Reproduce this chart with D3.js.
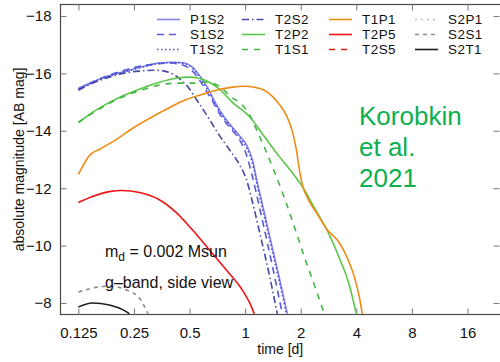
<!DOCTYPE html>
<html>
<head>
<meta charset="utf-8">
<script src="https://cdn.jsdelivr.net/npm/d3@7"></script>
<style>
  html, body { margin: 0; padding: 0; background: #fff; }
  svg { display: block; font-family: "Liberation Sans", Arial, Helvetica, sans-serif; }
</style>
</head>
<body>
<svg id="chart" width="500" height="362"></svg>
<script>
// Light curves, g-band, side view: [time (d), absolute AB magnitude]
const P1S2 = [[0.125,-15.48],[0.1435,-15.66],[0.162,-15.80],[0.196,-15.97],[0.236,-16.11],[0.285,-16.25],[0.343,-16.36],[0.414,-16.39],[0.469,-16.36],[0.518,-16.22],[0.565,-15.94],[0.624,-15.52],[0.698,-14.92],[0.772,-14.47],[0.853,-14.12],[0.930,-13.84],[1.015,-13.52],[1.094,-13.00],[1.164,-12.20],[1.270,-11.15],[1.404,-9.92],[1.532,-8.87],[1.692,-7.62]];
const S1S2 = [[0.125,-15.45],[0.153,-15.73],[0.184,-15.94],[0.222,-16.11],[0.268,-16.25],[0.322,-16.32],[0.389,-16.36],[0.440,-16.32],[0.487,-16.22],[0.531,-16.01],[0.586,-15.62],[0.656,-15.10],[0.743,-14.50],[0.842,-14.05],[0.930,-13.70],[1.015,-13.17],[1.094,-12.41],[1.193,-11.36],[1.319,-10.10],[1.457,-8.80],[1.590,-7.62]];
const T1S2 = [[0.125,-15.45],[0.1435,-15.63],[0.162,-15.78],[0.196,-15.96],[0.236,-16.10],[0.285,-16.24],[0.343,-16.35],[0.414,-16.38],[0.469,-16.34],[0.518,-16.18],[0.565,-15.88],[0.624,-15.45],[0.698,-14.86],[0.772,-14.42],[0.853,-14.08],[0.930,-13.78],[1.015,-13.42],[1.094,-12.88],[1.164,-12.08],[1.270,-11.02],[1.404,-9.80],[1.532,-8.75],[1.675,-7.62]];
const T2S2 = [[0.125,-15.41],[0.153,-15.69],[0.184,-15.87],[0.222,-16.01],[0.268,-16.08],[0.322,-16.11],[0.365,-16.08],[0.424,-15.90],[0.487,-15.55],[0.544,-15.10],[0.640,-14.40],[0.725,-13.84],[0.821,-13.35],[0.930,-12.83],[1.015,-12.31],[1.121,-11.25],[1.224,-10.20],[1.352,-8.98],[1.494,-7.62]];
const T2P2 = [[0.125,-14.29],[0.149,-14.64],[0.184,-14.99],[0.228,-15.27],[0.285,-15.52],[0.343,-15.69],[0.424,-15.83],[0.498,-15.87],[0.565,-15.83],[0.640,-15.69],[0.725,-15.45],[0.853,-14.99],[1.054,-14.50],[1.270,-13.80],[1.532,-13.10],[1.779,-12.58],[2.040,-12.06],[2.370,-11.32],[2.786,-10.52],[3.235,-9.57],[3.666,-8.63],[4.000,-7.62]];
const T1S1 = [[0.125,-14.29],[0.149,-14.61],[0.184,-14.96],[0.228,-15.24],[0.285,-15.45],[0.343,-15.59],[0.424,-15.66],[0.518,-15.66],[0.616,-15.69],[0.725,-15.55],[0.842,-15.17],[0.930,-14.99],[1.054,-14.57],[1.164,-13.98],[1.286,-13.35],[1.439,-12.58],[1.630,-11.67],[1.847,-10.66],[2.092,-9.61],[2.370,-8.63],[2.685,-7.62]];
const T1P1 = [[0.125,-12.48],[0.145,-13.17],[0.162,-13.35],[0.201,-13.70],[0.245,-14.08],[0.303,-14.43],[0.374,-14.75],[0.457,-15.03],[0.565,-15.24],[0.698,-15.41],[0.853,-15.52],[0.990,-15.55],[1.121,-15.52],[1.270,-15.41],[1.404,-15.20],[1.532,-14.92],[1.671,-14.54],[1.801,-13.98],[1.893,-13.35],[1.966,-12.65],[2.040,-12.13],[2.199,-11.60],[2.430,-11.15],[2.786,-10.55],[3.235,-10.10],[3.576,-9.57],[3.902,-8.91],[4.153,-8.21],[4.311,-7.62]];
const T2P5 = [[0.125,-11.50],[0.149,-11.71],[0.184,-11.88],[0.216,-11.92],[0.268,-11.85],[0.343,-11.60],[0.424,-11.15],[0.518,-10.55],[0.640,-9.85],[0.791,-9.15],[0.966,-8.45],[1.054,-8.03],[1.121,-7.62]];
const T2S5 = [];
const S2P1 = [];
const S2S1 = [[0.125,-8.38],[0.149,-8.52],[0.184,-8.59],[0.228,-8.45],[0.268,-8.17],[0.298,-7.62]];
const S2T1 = [[0.125,-7.86],[0.149,-8.00],[0.184,-7.93],[0.228,-7.69],[0.236,-7.62]];

const seriesNames = ["P1S2","S1S2","T1S2","T2S2","T2P2","T1S1","T1P1","T2P5","T2S5","S2P1","S2S1","S2T1"];
const seriesData = [P1S2,S1S2,T1S2,T2S2,T2P2,T1S1,T1P1,T2P5,T2S5,S2P1,S2S1,S2T1];

const xTicks = [0.125, 0.25, 0.5, 1, 2, 4, 8, 16];
const xTickLabels = ["0.125","0.25","0.5","1","2","4","8","16"];
const yTicks = [-18, -16, -14, -12, -10, -8];

// Line styling per model
const style = {
  P1S2: {color: "#8282f0", dash: null},
  S1S2: {color: "#5a5ad8", dash: "7,5"},
  T1S2: {color: "#4e4ed2", dash: "1.5,2.5"},
  T2S2: {color: "#4848a6", dash: "7,3,1.5,3"},
  T2P2: {color: "#58c846", dash: null},
  T1S1: {color: "#46b446", dash: "6,6"},
  T1P1: {color: "#ee8c16", dash: null},
  T2P5: {color: "#ee1414", dash: null},
  T2S5: {color: "#ee1414", dash: "6,6"},
  S2P1: {color: "#bdbdbd", dash: "2,4"},
  S2S1: {color: "#8a8a8a", dash: "4,4"},
  S2T1: {color: "#1e1e1e", dash: null}
};

const svg = d3.select("#chart");
const L = 60.5, R = 501, T = 4.5, B = 314.5;

const x = d3.scaleLog().base(2).domain([0.1, 24]).range([L, 500]);
const y = d3.scaleLinear().domain([-18.4, -7.6]).range([T, B]);

svg.append("defs").append("clipPath").attr("id", "plotclip")
  .append("rect").attr("x", L).attr("y", T).attr("width", R - L).attr("height", B - T);

// Frame
const frameColor = "#4a4a4a";
svg.append("rect").attr("x", L).attr("y", T).attr("width", R - L).attr("height", B - T)
  .attr("fill", "none").attr("stroke", frameColor).attr("stroke-width", 1.2);

// Axes with inward ticks, mirrored on the opposite sides
const fmtMinus = d => (d < 0 ? "\u2212" + Math.abs(d) : String(d));
const xAxisB = d3.axisBottom(x).tickValues(xTicks).tickSizeInner(-6).tickSizeOuter(0)
  .tickFormat((d, i) => xTickLabels[i]).tickPadding(13);
const xAxisT = d3.axisTop(x).tickValues(xTicks).tickSizeInner(-6).tickSizeOuter(0).tickFormat("");
const yAxisL = d3.axisLeft(y).tickValues(yTicks).tickSizeInner(-6).tickSizeOuter(0)
  .tickFormat(fmtMinus).tickPadding(9);
const yAxisR = d3.axisRight(y).tickValues(yTicks).tickSizeInner(-6).tickSizeOuter(0).tickFormat("");

function styleAxis(g) {
  g.select(".domain").remove();
  g.selectAll(".tick line").attr("stroke", "#777").attr("stroke-width", 1);
  g.selectAll(".tick text").attr("fill", "#111").style("font-size", "15px")
    .style("font-family", "'Liberation Sans', Arial, sans-serif");
}
svg.append("g").attr("transform", `translate(0,${B})`).call(xAxisB).call(styleAxis);
svg.append("g").attr("transform", `translate(0,${T})`).call(xAxisT).call(styleAxis);
svg.append("g").attr("transform", `translate(${L},0)`).call(yAxisL).call(styleAxis);
svg.append("g").attr("transform", `translate(499.5,0)`).call(yAxisR).call(styleAxis);

// Axis titles
svg.append("text").attr("x", (L + 500) / 2).attr("y", 354).attr("text-anchor", "middle")
  .style("font-size", "14px").attr("fill", "#111").text("time [d]");
svg.append("text").attr("transform", `translate(24,${(T + B) / 2}) rotate(-90)`)
  .attr("text-anchor", "middle").style("font-size", "14px").attr("fill", "#111")
  .text("absolute magnitude [AB mag]");

// Curves
const line = d3.line().x(d => x(d[0])).y(d => y(d[1])).curve(d3.curveMonotoneX);
const plot = svg.append("g").attr("clip-path", "url(#plotclip)");
seriesNames.forEach((name, i) => {
  const data = seriesData[i];
  if (!data.length) return;
  plot.append("path").datum(data).attr("d", line)
    .attr("fill", "none").attr("stroke", style[name].color).attr("stroke-width", 1.6)
    .attr("stroke-dasharray", style[name].dash).attr("stroke-linejoin", "round");
});

// Legend: four columns of three entries
const legendCols = [190, 275, 362, 448];
const legendRows = [19.5, 34.5, 49.5];
seriesNames.forEach((name, i) => {
  const col = Math.floor(i / 3), row = i % 3;
  const lx = legendCols[col], ly = legendRows[row];
  svg.append("line").attr("x1", lx - 33).attr("x2", lx - 10).attr("y1", ly).attr("y2", ly)
    .attr("stroke", style[name].color).attr("stroke-width", 1.6)
    .attr("stroke-dasharray", style[name].dash);
  svg.append("text").attr("x", lx).attr("y", ly).attr("dy", "0.36em")
    .style("font-size", "13.4px").style("letter-spacing", "0.5px")
    .attr("fill", "#111").text(name);
});

// Annotations
const note1 = svg.append("text").attr("x", 105).attr("y", 257).style("font-size", "16px").attr("fill", "#111");
note1.append("tspan").text("m");
note1.append("tspan").attr("dy", 4).style("font-size", "12px").text("d");
note1.append("tspan").attr("dy", -4).text(" = 0.002 Msun");
svg.append("text").attr("x", 105).attr("y", 288).style("font-size", "16px").attr("fill", "#111")
  .text("g\u2013band, side view");

const credit = ["Korobkin", "et al.", "2021"];
svg.append("g").selectAll("text").data(credit).join("text")
  .attr("x", 359).attr("y", (d, i) => 125 + i * 31)
  .style("font-size", "26px").attr("fill", "#0cb04e").text(d => d);
</script>
</body>
</html>
